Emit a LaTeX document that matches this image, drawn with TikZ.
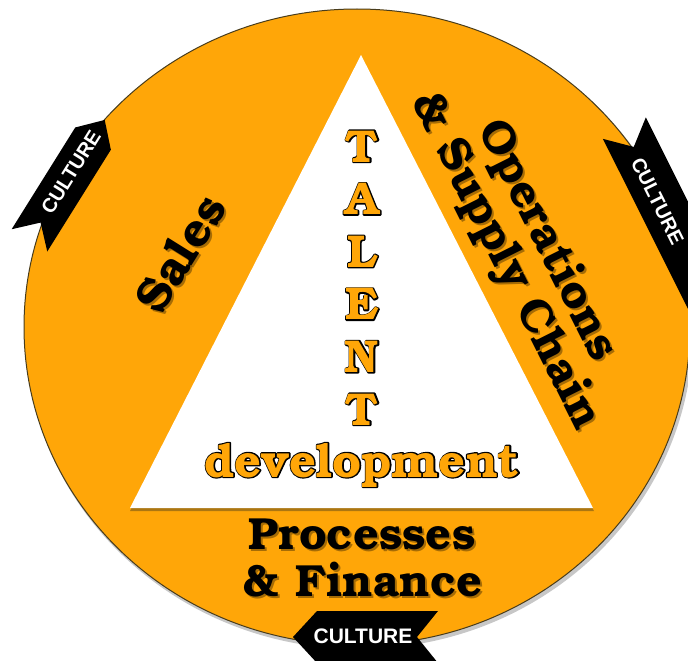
\documentclass[tikz,border=0pt]{standalone}
\usepackage{fontspec}
\setmainfont{texgyrebonum}[Extension=.otf, UprightFont=*-regular, BoldFont=*-bold, ItalicFont=*-italic, BoldItalicFont=*-bolditalic]
\newfontfamily\culturefont{Liberation Sans}
\definecolor{orng}{RGB}{255,166,8}
\definecolor{rim}{RGB}{72,60,28}
% stroke-only text (outline), in black
\newcommand{\strk}[2]{\special{pdf:literal direct 1 Tr #1 w 0 G 1 J 1 j}#2\special{pdf:literal direct 0 Tr 0.4 w 0 J 0 j}}
\begin{document}
\begin{tikzpicture}[x=1pt,y=-1pt,
  lbl/.style={font=\bfseries\fontsize{#1}{#1}\selectfont, text=black, inner sep=0pt, align=center},
  lblsh/.style={font=\bfseries\fontsize{#1}{#1}\selectfont, text=black, text opacity=0.35, inner sep=0pt, align=center},
  otxt/.style={font=\bfseries\fontsize{#1}{#1}\selectfont, text=orng, inner sep=0pt},
  oline/.style={font=\bfseries\fontsize{#1}{#1}\selectfont, text=black, inner sep=0pt},
  bannerfill/.style={fill=black},
  culturetxt/.style={font=\culturefont\bfseries\fontsize{#1}{#1}\selectfont, text=white, inner sep=0pt}
]
\useasboundingbox (0,0) rectangle (688,661);
\clip (0,0) rectangle (688,661);
% disc
\fill[black, opacity=0.22] (359,330) ellipse [x radius=334pt, y radius=319pt];
\filldraw[fill=orng, draw=rim, line width=1pt] (357,327) ellipse [x radius=333pt, y radius=318pt];
% triangle
\fill[rim, opacity=0.45] (361,58) -- (130,511) -- (594,511) -- cycle;
\fill[white] (361,55) -- (130,508) -- (593,508) -- cycle;
% TALENT
\foreach \ch [count=\i] in {T,A,L,E,N,T}{
  \node[oline=46, anchor=base] (talent\i-line) at (362,{162+52.6*(\i-1)}) {\strk{2.4}{\ch}};
  \node[otxt=46, anchor=base] (talent\i) at (362,{162+52.6*(\i-1)}) {\ch};
}
\node[oline=47, anchor=base] (devel-line) at (362,477) {\strk{2.4}{development}};
\node[otxt=47, anchor=base] (devel) at (362,477) {development};
% Sales
\node[lblsh=48, rotate=58] (sales-sh) at (182,255) {Sales};
\node[lbl=48, rotate=58] (sales) at (180,253) {Sales};
% Operations
\node[lblsh=46, rotate=-63.4] (ops-sh) at (528.5,253) {Operations\\\& Supply Chain};
\node[lbl=46, rotate=-63.4] (ops) at (526.5,251) {Operations\\\& Supply Chain};
% Processes
\node[lblsh=45, anchor=base] (proc1-sh) at (364,551) {Processes};
\node[lbl=45, anchor=base] (proc1) at (362,549) {Processes};
\node[lblsh=45, anchor=base] (proc2-sh) at (365,598) {\& Finance};
\node[lbl=45, anchor=base] (proc2) at (363,596) {\& Finance};
% left banner
\begin{scope}[shift={(71,172)}, rotate=58]
  \fill[bannerfill] (-80,-20) -- (40,-20) -- (62,1) -- (40,22) -- (-80,22) -- (-59,1) -- cycle;
  \node[culturetxt=20, rotate=58] (cultL) at (0,0) {CULTURE};
\end{scope}
% right banner
\begin{scope}[shift={(657.5,201)}, rotate=-63.4]
  \fill[bannerfill] (-80,-27) -- (160,-27) -- (184,-3) -- (160,21) -- (-80,21) -- (-59,-3) -- cycle;
  \node[culturetxt=20, rotate=-63.4] (cultR) at (0,0) {CULTURE};
\end{scope}
% bottom banner
\fill[bannerfill] (293,637) -- (317,611) -- (438,611) -- (417,637) -- (438,663) -- (317,663) -- cycle;
\node[culturetxt=21] (cultB) at (363,636) {CULTURE};
\end{tikzpicture}
\end{document}
